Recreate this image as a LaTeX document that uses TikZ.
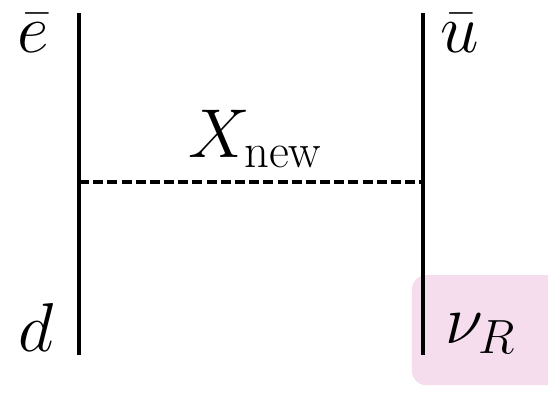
\documentclass[tikz,border=0pt]{standalone}
\usepackage{amsmath}
\definecolor{nupink}{RGB}{245,221,238}
\begin{document}
\begin{tikzpicture}[font=\fontsize{25}{30}\selectfont]
        \useasboundingbox (0,0) rectangle (6.93,5.01);
        \fill[nupink, rounded corners=5pt] (5.21,0.14) rectangle (7.4,1.53);
        \coordinate (lt) at (1.0,4.84);
        \coordinate (lb) at (1.0,0.52);
        \coordinate (rt) at (5.35,4.84);
        \coordinate (rb) at (5.35,0.52);
        \coordinate (lm) at (1.0,2.71);
        \coordinate (rm) at (5.35,2.71);
        \draw[line width=1.2pt] (lt) -- (lb);
        \draw[line width=1.2pt] (rt) -- (rb);
        \draw[line width=1.3pt, dash pattern=on 3.6pt off 1.5pt] (lm) -- (rm);
        \node[anchor=base] (ebar) at (0.42,4.35) {$\bar{e}$};
        \node[anchor=base] (ubar) at (5.81,4.35) {$\bar{u}$};
        \node[anchor=base] (xnew) at (3.23,3.02) {$X_{\text{new}}$};
        \node[anchor=base] (dq) at (0.46,0.56) {$d$};
        \node[anchor=base] (nur) at (6.08,0.67) {$\nu_R$};
    \end{tikzpicture}
\end{document}
